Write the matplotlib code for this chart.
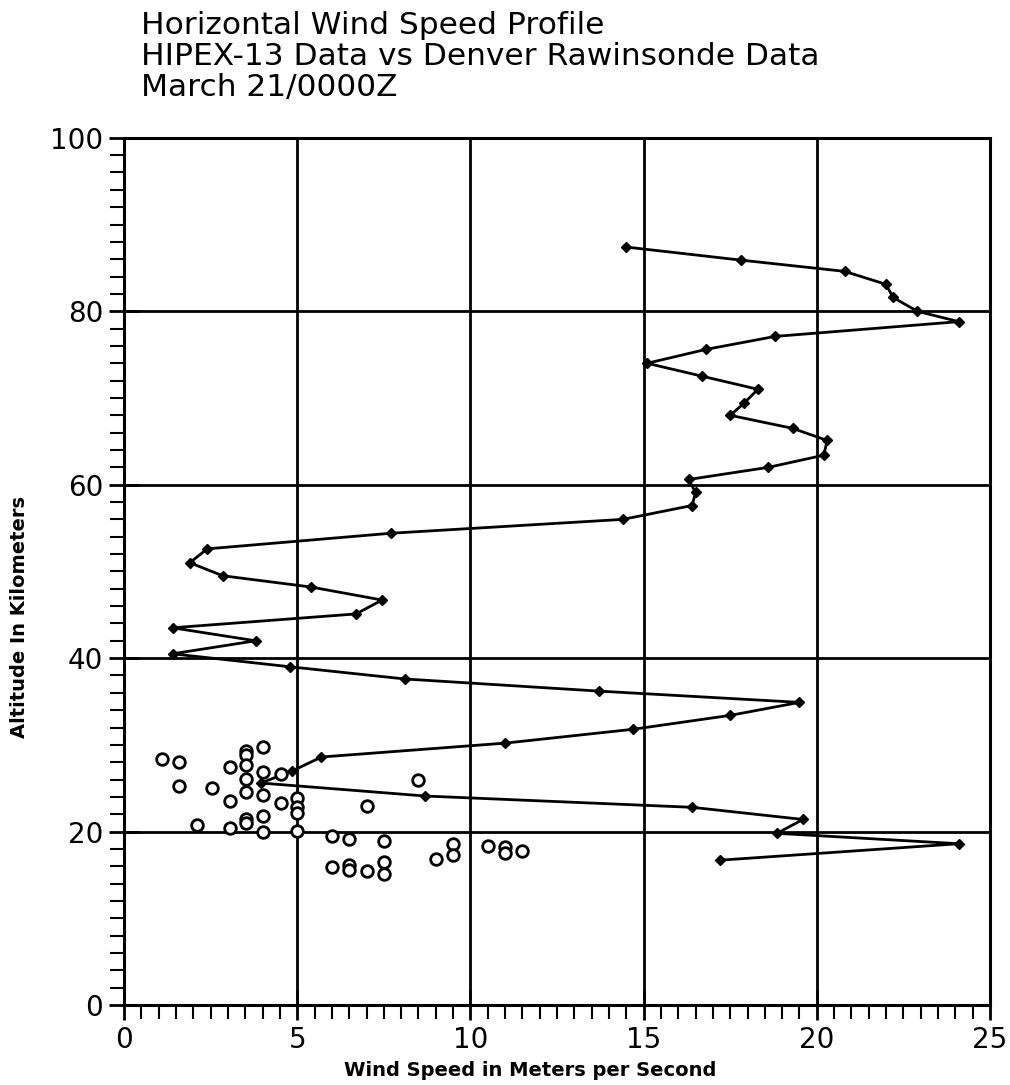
import matplotlib.pyplot as plt
from matplotlib.ticker import MultipleLocator

# HIPEX-13 profile (connected line, diamond markers)
hipex_speed = [14.5, 17.8, 20.8, 22.0, 22.2, 22.9, 24.1, 18.8, 16.8, 15.1,
               16.7, 18.3, 17.9, 17.5, 19.3, 20.3, 20.2, 18.6, 16.3, 16.5,
               16.4, 14.4, 7.7, 2.4, 1.9, 2.85, 5.4, 7.45, 6.7, 1.4,
               3.8, 1.4, 4.8, 8.1, 13.7, 19.5, 17.5, 14.7, 11.0, 5.7,
               4.86, 3.95, 8.7, 16.4, 19.6, 18.85, 24.1, 17.2]
hipex_alt = [87.4, 85.9, 84.6, 83.1, 81.6, 80.0, 78.8, 77.1, 75.6, 74.0,
             72.5, 71.0, 69.4, 68.0, 66.5, 65.1, 63.4, 62.0, 60.6, 59.1,
             57.6, 56.0, 54.4, 52.6, 51.0, 49.5, 48.2, 46.7, 45.1, 43.5,
             42.0, 40.5, 39.0, 37.6, 36.2, 34.9, 33.4, 31.8, 30.2, 28.6,
             27.0, 25.6, 24.1, 22.8, 21.4, 19.8, 18.6, 16.7]

# Denver rawinsonde (open circles)
raob_speed = [1.1, 1.6, 1.6, 2.55, 3.05, 3.05, 2.1, 3.05,
              3.53, 3.53, 3.53, 3.53, 3.53, 3.53, 3.53,
              4.02, 4.02, 4.02, 4.02, 4.02, 4.53, 4.53,
              5.0, 5.0, 5.0, 5.0, 8.5, 7.0,
              6.0, 6.5, 7.5, 6.0, 6.5, 6.5, 7.0, 7.5, 7.5,
              9.0, 9.5, 9.5, 10.5, 11.0, 11.0, 11.5]
raob_alt = [28.4, 28.0, 25.3, 25.0, 27.4, 23.5, 20.8, 20.4,
            29.3, 28.8, 27.7, 26.1, 24.6, 21.5, 21.0,
            29.7, 26.9, 24.2, 21.8, 20.0, 26.6, 23.3,
            23.9, 22.8, 22.2, 20.1, 25.9, 22.9,
            19.5, 19.2, 18.9, 15.9, 16.2, 15.6, 15.4, 16.5, 15.1,
            16.8, 18.6, 17.3, 18.3, 18.2, 17.5, 17.8]

title_lines = ["Horizontal Wind Speed Profile",
               "HIPEX-13 Data vs Denver Rawinsonde Data",
               "March 21/0000Z"]

fig = plt.figure(figsize=(10.1, 10.85), dpi=100)
ax = fig.add_axes([0.1228, 0.0737, 0.8574, 0.7993])

ax.plot(hipex_speed, hipex_alt, color="black", lw=2.0, marker="D", ms=5.5,
        zorder=3)
ax.scatter(raob_speed, raob_alt, s=70, facecolors="white", edgecolors="black",
           linewidths=2.0, zorder=4)

ax.set_xlim(0, 25)
ax.set_ylim(0, 100)
ax.xaxis.set_major_locator(MultipleLocator(5))
ax.xaxis.set_minor_locator(MultipleLocator(0.5))
ax.yaxis.set_major_locator(MultipleLocator(20))
ax.yaxis.set_minor_locator(MultipleLocator(2))
ax.grid(True, which="major", color="black", lw=2.0)

ax.tick_params(which="major", direction="inout", length=22, width=2,
               labelsize=20, pad=4)
ax.tick_params(which="minor", direction="out", length=10, width=1.5)
for s in ax.spines.values():
    s.set_linewidth(2.2)

ax.set_xlabel("Wind Speed in Meters per Second", fontsize=14,
              fontweight="bold")
ax.set_ylabel("Altitude In Kilometers", fontsize=14, fontweight="bold")
ax.xaxis.set_label_coords(0.469, -0.064)
ax.yaxis.set_label_coords(-0.11, 0.447)

for i, line in enumerate(title_lines):
    fig.text(0.14, 0.99 - i * 0.0285, line, fontsize=22.5, va="top", ha="left")

fig.savefig("out.png", dpi=100)
